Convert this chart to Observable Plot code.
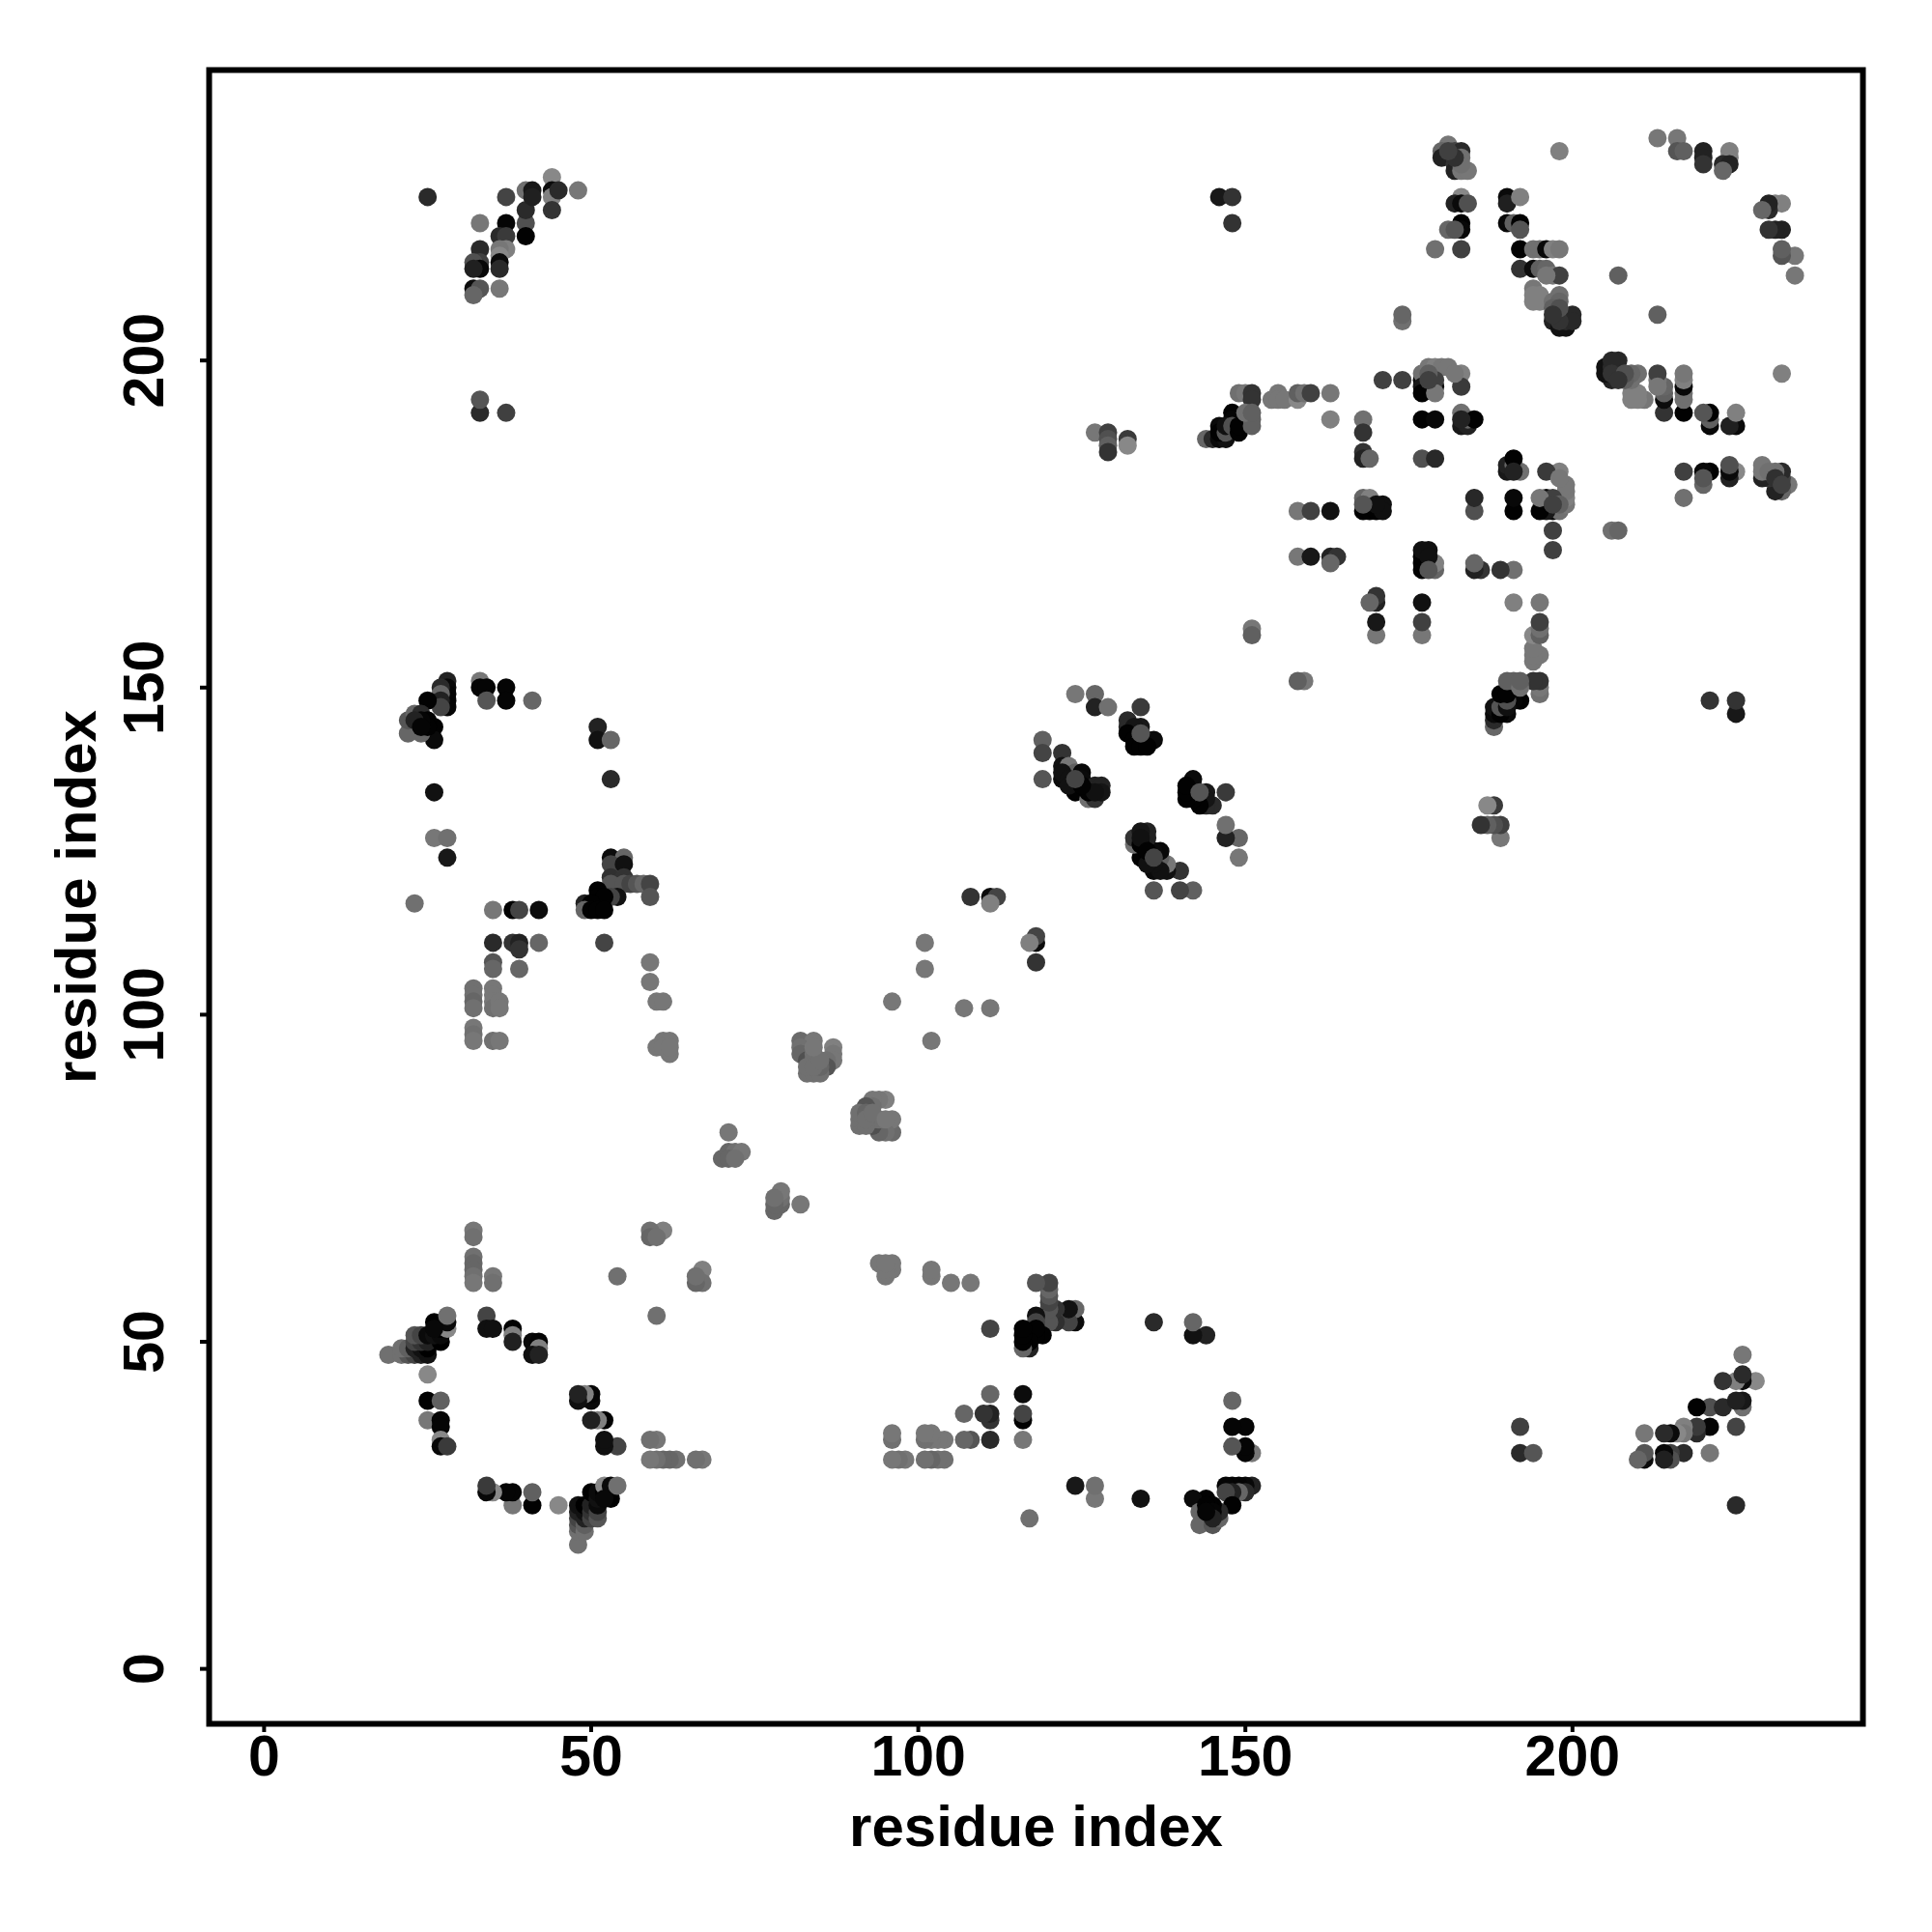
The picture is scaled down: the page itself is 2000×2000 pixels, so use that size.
<!DOCTYPE html>
<html><head><meta charset="utf-8">
<script src="https://cdn.jsdelivr.net/npm/d3@7"></script>
<script src="https://cdn.jsdelivr.net/npm/@observablehq/plot@0.6"></script>
<style>html,body{margin:0;padding:0;background:#fff}svg{display:block}</style>
</head><body><div id="chart"></div>
<script>
// Contacts as [residue i, residue j, grey level]; each one is drawn at (i,j) and (j,i).
const axisTicks = [0, 50, 100, 150, 200];
const axisLabel = "residue index";
const helixStart = [[19,48,0x70],[21,48,0x70],[22,48,0x55],[23,48,0x44],[24,48,0x22],[25,48,0x11],[21,49,0x70],[22,49,0x60],[23,49,0x22],[24,49,0x11],[25,49,0],[23,50,0x44],[24,50,0x33],[25,50,0x22],[27,50,0],[23,51,0x55],[24,51,0x44],[25,51,0x0a],[26,51,0x11],[27,51,0x0a],[27,52,0],[28,52,0x88],[26,53,0],[28,53,0x0a],[28,54,0x70],[25,45,0x88],[25,41,2],[27,41,0x60],[25,38,0x77],[27,38,5],[27,37,5],[27,35,0x88],[27,34,8],[28,34,0x3a],[34,54,0x44],[34,52,0x10],[35,52,0x10],[38,52,2],[38,51,0x80],[38,50,0x20],[41,50,0x0a],[42,50,5],[42,49,0x80],[41,48,0x10],[42,48,0x22],[48,42,0x33],[48,41,0x22],[49,42,0x77],[50,42,0x0a],[50,41,8],[50,38,0x0a],[51,38,0x80],[52,38,5],[52,35,0x10],[52,34,0x10],[54,34,0x40]];
const hairpin = [[34,28,0x44],[34,27,8],[35,27,0x88],[37,27,5],[38,27,2],[38,25,0x66],[41,27,0x60],[41,25,5],[45,25,0x77],[48,25,5],[48,24,0x20],[48,23,0x30],[48,22,0x50],[48,21,0x66],[48,19,0x77],[49,23,0x60],[49,22,0x33],[49,21,0x55],[50,27,5],[50,25,0x20],[50,24,0x10],[50,23,0x77],[51,27,0x40],[51,25,8],[51,23,0x55],[52,28,0x88],[52,26,8],[53,28,5],[53,26,5],[54,28,0x60]];
const nearGrey = [[54,60,0x70],[60,54,0x70],[32,67,0x77],[32,66,0x70],[32,63,0x70],[32,62,0x66],[32,61,0x66],[32,60,0x70],[32,59,0x77],[35,60,0x77],[35,59,0x70],[59,35,0x66],[60,35,0x77],[59,32,0x77],[60,32,0x66],[61,32,0x55],[62,32,0x60],[63,32,0x80],[66,32,0x77],[67,32,0x77]];
const strandA = [[28,151,0x22],[28,150,0x08],[28,149,0x05],[28,148,0x05],[28,147,0x05],[27,150,0x2a],[27,149,0x66],[27,148,0x22],[27,147,0x44],[25,148,2],[26,144,2],[26,142,0x0a],[24,143,0x66],[22,143,0x66],[22,145,0x55],[23,146,0x66],[24,146,0x2a],[25,145,2],[25,144,2],[24,145,5],[23,145,0x22],[24,144,5],[33,151,0x77],[33,150,5],[34,150,5],[34,148,0x55],[37,150,5],[37,148,5],[41,148,0x66],[51,144,0x22],[51,142,0x11],[53,142,0x66],[53,136,0x2a],[26,134,0x11],[26,127,0x77],[28,127,0x70],[28,124,0x18],[23,117,0x70]];
const strandB = [[35,116,0x77],[38,116,2],[39,116,0x44],[42,116,0x0c],[35,111,0x2a],[38,111,0x33],[39,111,0x22],[39,110,0x33],[42,111,0x66],[35,108,0x55],[35,107,0x66],[39,107,0x66],[32,104,0x70],[32,103,0x70],[32,102,0x66],[32,101,0x70],[35,104,0x77],[35,103,0x77],[35,102,0x77],[35,101,0x70],[36,102,0x77],[36,101,0x77],[32,98,0x77],[32,97,0x70],[32,96,0x77],[35,96,0x70],[36,96,0x77],[52,111,0x44],[59,108,0x77],[59,105,0x77],[60,102,0x77],[61,102,0x77]];
const strandC = [[53,124,0x0c],[55,124,0x66],[53,123,0x44],[55,123,0x11],[53,121,0x30],[55,121,0x33],[53,120,0x55],[55,120,0x55],[56,120,0x44],[57,120,0x55],[58,120,0x66],[59,120,0x44],[59,118,0x55],[51,119,2],[51,118,2],[54,118,0x11],[53,118,0x44],[52,118,2],[49,117,0x22],[50,117,2],[49,116,0x66],[50,116,2],[51,116,2],[52,116,2]];
const topLeft = [[25,225,0x2a],[37,225,0x44],[33,221,0x77],[37,221,5],[40,221,0x50],[40,223,0x2a],[40,219,2],[40,226,0x70],[41,226,0x18],[41,225,0x20],[44,228,0x88],[44,226,0x0c],[44,225,0x80],[44,223,0x33],[45,226,0x2a],[48,226,0x77],[36,219,0x2a],[37,219,0x3a],[37,217,0x80],[36,217,0x77],[36,216,0x88],[36,215,0x0a],[36,214,0x2a],[33,217,0x2a],[33,215,0x40],[32,215,0x50],[33,214,8],[32,214,0x20],[32,211,0x0c],[33,211,0x55],[36,211,0x77],[32,210,0x66],[33,192,0x2a],[33,194,0x55],[37,192,0x40]];
const diagonalGreys = [[108,118,0x33],[111,118,0x0c],[112,118,0x44],[111,117,0x80],[101,111,0x77],[101,107,0x77],[96,102,0x77],[107,101,0x77],[111,101,0x77],[102,96,0x77],[60,95,0x77],[61,96,0x77],[62,96,0x77],[62,94,0x77],[61,95,0x77],[62,95,0x77],[71,82,0x77],[70,78,0x66],[71,79,0x66],[72,79,0x70],[73,79,0x77],[71,78,0x66],[78,70,0x66],[78,72,0x70],[79,73,0x70],[79,72,0x70],[78,71,0x66],[79,71,0x66],[82,71,0x77],[61,67,0x80],[59,67,0x70],[59,66,0x66],[60,66,0x70]];
const diagonalBlobs = [[82,96,0x6a],[84,96,0x77],[87,95,0x80],[82,95,0x70],[82,94,0x66],[83,93,0x50],[84,94,0x70],[87,94,0x77],[87,93,0x77],[86,93,0x70],[86,92,0x55],[83,91,0x70],[84,91,0x70],[85,91,0x70],[84,93,0x70],[83,92,0x70],[85,92,0x66],[95,87,0x80],[93,87,0x70],[94,87,0x70],[92,86,0x55],[91,85,0x60],[91,84,0x70],[91,83,0x70],[92,84,0x70],[93,85,0x70],[93,84,0x70],[93,83,0x50],[94,82,0x70],[95,82,0x70],[96,82,0x60],[96,84,0x80],[95,84,0x77]];
const sheetMiddle = [[124,149,0x77],[127,149,0x66],[127,147,0x22],[129,147,0x70],[134,147,0x3a],[132,145,0x2a],[134,144,0x18],[132,144,0x2a],[133,144,0x15],[132,143,2],[133,142,2],[134,142,0x55],[135,142,0x55],[136,142,0x0a],[133,141,2],[134,141,2],[135,141,2],[119,142,0x60],[119,140,0x44],[122,140,0x33],[119,136,0x55],[122,138,0x11],[123,138,0x77],[122,136,0x0a],[124,137,0x60],[125,137,8],[124,134,2],[125,136,0x0a],[122,137,0x11],[123,136,0x11],[123,135,0x11],[126,133,0x70],[127,133,0x33],[127,135,0x22],[128,135,0x22],[128,134,0x15],[126,134,2],[127,134,0x11],[125,135,2]];
const sheetLower = [[142,136,0x10],[141,135,0x18],[141,134,2],[141,133,2],[142,133,0x55],[143,134,0x55],[144,134,0x11],[143,132,2],[144,132,2],[145,132,0x2a],[147,134,0x40],[147,129,0x77],[147,127,0x1a],[149,127,0x6a],[149,124,0x77],[133,127,0x33],[133,126,0x77],[134,128,0x22],[135,128,0x22],[134,127,0x2a],[135,127,0x33],[134,124,0x11],[136,125,2],[137,125,0x0a],[135,125,2],[136,124,0x44],[138,123,0x80],[136,122,2],[137,122,2],[138,122,2],[140,122,0x33],[136,119,0x55],[140,119,0x50],[142,119,0x58]];
const ridgeLeft = [[146,225,0x18],[148,225,0x33],[148,221,0x33],[127,189,0x77],[129,189,0x40],[129,188,0x50],[129,187,0x60],[129,186,0x33],[132,188,0x3a],[132,187,0x88],[144,188,0x66],[145,188,0x2a],[146,188,0x0a],[147,188,0x11],[146,190,0x0a],[146,189,2],[147,189,0x55],[148,192,2],[148,191,5],[147,190,0x10],[148,190,0x50],[149,189,2],[149,190,2],[149,195,0x70],[150,195,0x77],[151,195,0x33],[151,194,0x33],[151,191,0x60],[151,190,0x60],[150,192,0x70]];
const ridgeTop = [[154,194,0x77],[155,195,0x77],[155,194,0x77],[156,194,0x77],[158,194,0x88],[158,195,0x60],[159,195,0x70],[160,195,0x40],[163,195,0x77],[163,191,0x80],[168,191,0x70],[168,189,0x33],[168,186,0x33],[168,185,0x22],[169,185,0x66],[158,177,0x77],[160,177,0x40],[163,177,0x11],[158,170,0x77],[160,170,0x18],[163,170,0x22],[164,170,0x33],[163,169,0x66],[168,179,0x66],[169,179,0x80],[168,177,2],[169,177,2],[170,177,2],[171,178,0x10],[171,177,0x10],[170,178,0x10],[168,178,0x55],[151,159,0x77],[151,158,0x60],[158,151,0x66],[159,151,0x77],[169,163,0x70],[170,164,0x33],[170,163,0x0c],[170,160,0x10],[170,158,0x70],[177,163,8],[177,160,0x44],[177,158,0x70]];
const ridgeCore = [[171,197,0x40],[174,197,0x40],[177,197,0x0a],[177,198,0x70],[177,196,0x18],[177,195,2],[178,199,0x77],[179,199,0x80],[180,199,0x77],[181,199,0x77],[183,198,0x80],[183,196,0x3a],[179,196,0x0a],[179,197,0x40],[179,195,0x77],[178,198,0x60],[177,191,2],[179,191,8],[183,192,0x70],[183,190,0x18],[184,190,0x22],[184,191,0x66],[185,191,2],[177,185,0x50],[179,185,0x28],[185,179,0x2a],[185,177,0x50],[191,179,8],[191,177,0x0c],[191,185,6],[190,184,0x30],[190,183,0x18],[191,183,0x22],[192,183,0x77],[196,183,0x3a],[198,183,0x80],[198,182,0x77],[199,181,0x80],[199,180,0x77],[199,179,0x77],[199,178,0x77],[195,179,0x80],[196,179,0x0a],[195,177,8],[196,177,0x0c],[197,177,0x18],[197,179,0x50],[197,178,0x40],[197,174,0x40],[197,171,0x48]];
const ridgeLow = [[177,171,8],[178,171,8],[177,170,0x0a],[177,169,0x0a],[177,168,0x18],[178,170,0x10],[179,169,0x80],[179,168,0x66],[178,168,0x44],[185,169,0x66],[185,168,0x22],[186,168,0x28],[189,168,0x33],[191,168,0x70],[191,163,0x77],[195,163,0x77],[195,160,0x48],[195,158,0x70],[194,158,0x80],[194,155,0x80],[194,154,0x80],[195,155,0x77],[191,151,0x60],[192,151,0x60],[194,151,0x33],[195,151,0x33],[189,149,0x08],[190,149,0x08]];
const topRightA = [[198,232,0x80],[213,234,0x77],[216,234,0x77],[216,232,0x55],[217,232,0x60],[220,232,0x22],[220,231,0x22],[220,230,0x33],[224,232,0x80],[224,231,0x80],[223,230,0x2a],[224,230,0x22],[223,229,0x66],[181,233,0x77],[180,232,0x66],[182,232,0x44],[183,232,0x2a],[180,231,0x22],[183,231,0x70],[182,230,0x33],[182,229,0x22],[183,229,0x77],[184,229,0x77],[183,225,0x88],[182,224,0x22],[183,224,0x0a],[184,224,0x50],[183,221,2],[183,220,8],[181,220,0x66],[183,217,0x40],[179,217,0x70]];
const topRightB = [[190,225,0x0a],[190,224,0x20],[192,225,0x80],[190,221,8],[191,221,0x60],[192,221,2],[192,220,0x55],[192,217,2],[194,217,0x70],[195,217,0x70],[196,217,8],[197,217,0x80],[198,217,0x77],[192,214,0x33],[194,214,0x0c],[195,214,0x60],[196,214,0x66],[197,213,0x77],[198,213,0x40],[194,211,0x77],[194,210,0x80],[194,209,0x80],[195,210,0x80],[195,209,0x80],[198,210,0x70],[197,209,0x70],[198,209,0x66],[197,208,0x60],[197,206,0x22],[198,207,0x55],[198,205,0x11],[199,205,0x11],[199,206,0x2a],[200,207,0x28],[200,206,0x28],[207,213,0x60],[213,207,0x66]];
const nearDiagonalEnd = [[205,199,0x11],[206,200,0x2a],[207,200,0x2a],[206,199,0x22],[206,197,0x22],[206,198,0x33],[207,198,0x44],[208,198,0x50],[209,198,0x55],[210,198,0x60],[209,195,0x77],[209,194,0x77],[210,195,0x80],[211,194,0x70],[210,194,0x77],[207,197,0x33],[213,198,0x44],[214,196,0x60],[213,197,0x50],[213,196,0x77],[214,195,0x55],[214,194,0x0a],[214,192,0x33],[217,198,0x70],[217,197,0x80],[217,196,0x33],[217,195,0x70],[217,194,0x70],[217,192,2],[220,192,0x66],[221,192,2],[221,191,0x50],[221,190,6],[225,192,0x80],[224,190,0x18],[225,190,0x0c],[232,198,0x77]];
const cornerRight = [[232,224,0x77],[231,224,0x80],[230,224,0x1a],[229,223,0x66],[230,223,0x22],[230,220,0x20],[231,220,0x66],[232,220,0x18],[232,217,0x60],[232,216,0x60],[234,216,0x70],[234,213,0x77],[217,183,0x40],[220,183,8],[221,183,2],[220,182,0x55],[224,184,0x50],[225,183,0x80],[224,183,0x0c],[224,182,0x22],[229,184,0x70],[229,183,0x70],[229,182,0x22],[230,183,0x70],[231,183,0x77],[232,183,0x28],[231,182,0x30],[232,181,0x40],[233,181,0x77],[232,180,0x66],[217,179,0x70],[206,174,0x70],[207,174,0x66]];

const clusters = [helixStart, hairpin, nearGrey, strandA, strandB, strandC, topLeft, diagonalGreys, diagonalBlobs, sheetMiddle, sheetLower, ridgeLeft, ridgeTop, ridgeCore, ridgeLow, topRightA, topRightB, nearDiagonalEnd, cornerRight];

const seen = new Map();
for (const c of clusters) for (const [a, b, g] of c) {
  const key = Math.min(a, b) + "," + Math.max(a, b);
  if (!seen.has(key)) seen.set(key, [Math.min(a, b), Math.max(a, b), g]);
}
const contacts = [];
for (const [a, b, g] of seen.values()) {
  const fill = `rgb(${g},${g},${g})`;
  contacts.push({x: a, y: b, fill}, {x: b, y: a, fill});
}

const tickFont = {fontFamily: "'Liberation Sans', Arial, sans-serif", fontWeight: "bold", fontSize: 59};
const labelFont = {...tickFont, fontSize: 60};

const chart = Plot.plot({
  width: 2000, height: 2000,
  marginLeft: 216, marginRight: 72, marginTop: 72, marginBottom: 216,
  x: {domain: [-8.4, 244.4]},
  y: {domain: [-8.4, 244.4]},
  style: {background: "#fff", color: "#000"},
  marks: [
    Plot.dot(contacts, {x: "x", y: "y", r: 9.5, fill: "fill", stroke: null}),
    Plot.frame({stroke: "#000", strokeWidth: 6}),
    Plot.axisX({ticks: axisTicks, tickSize: 9, tickPadding: 3, strokeWidth: 4, label: null, tickFormat: d => String(d), ...tickFont, color: "#000"}),
    Plot.axisY({ticks: axisTicks, tickSize: 9, tickPadding: 39, strokeWidth: 4, label: null, tickRotate: -90, textAnchor: "middle", tickFormat: d => String(d), ...tickFont, color: "#000"}),
    Plot.text([axisLabel], {frameAnchor: "bottom", dy: 107, text: d => d, lineAnchor: "middle", ...labelFont, fill: "#000"}),
    Plot.text([axisLabel], {frameAnchor: "left", dx: -137, text: d => d, rotate: -90, textAnchor: "middle", lineAnchor: "middle", ...labelFont, fill: "#000"})
  ]
});
document.getElementById("chart").appendChild(chart);
</script></body></html>
